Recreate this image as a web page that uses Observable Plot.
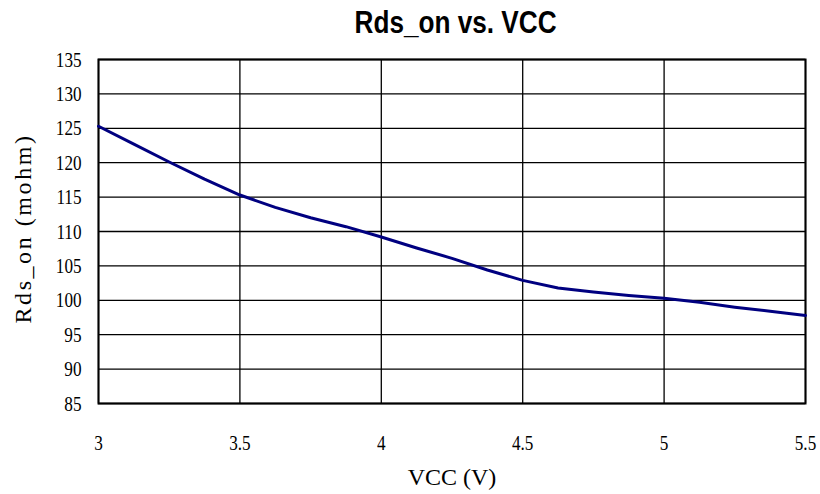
<!DOCTYPE html>
<html><head><meta charset="utf-8">
<script src="https://cdn.jsdelivr.net/npm/d3@7"></script>
<script src="https://cdn.jsdelivr.net/npm/@observablehq/plot@0.6"></script>
<style>
html,body{margin:0;padding:0;background:#fff;}
#wrap{position:relative;width:820px;height:494px;}
#title{position:absolute;left:0;top:6px;width:912px;text-align:center;font-family:"Liberation Sans",Arial,sans-serif;font-weight:bold;font-size:32px;line-height:32px;color:#000;}
#title span{display:inline-block;transform-origin:center;}
</style>
</head><body>
<div id="wrap"><div id="title"><span id="tt">Rds_on vs. VCC</span></div></div>
<script>
const vcc = [3.0,3.125,3.25,3.375,3.5,3.625,3.75,3.875,4.0,4.125,4.25,4.375,4.5,4.625,4.75,4.875,5.0,5.125,5.25,5.375,5.5];
const rdsOn = [125.3,122.7,120.1,117.6,115.3,113.5,112.0,110.7,109.2,107.6,106.1,104.4,102.9,101.8,101.2,100.7,100.3,99.7,99.0,98.4,97.8];
const xTicks = [3,3.5,4,4.5,5,5.5];
const yTicks = [85,90,95,100,105,110,115,120,125,130,135];
const xLabel = "VCC (V)";
const yLabel = "Rds_on (mohm)";

const data = vcc.map((v,i)=>({v, r: rdsOn[i]}));
const chart = Plot.plot({
  width: 820, height: 494,
  marginTop: 59, marginBottom: 91, marginLeft: 98, marginRight: 15,
  style: {fontFamily: "'Liberation Serif', 'Times New Roman', serif", fontSize: "22px", color: "#000", background: "#fff"},
  x: {domain: [3, 5.5], ticks: xTicks, tickFormat: d => String(d), tickSize: 0, tickPadding: 31, label: null},
  y: {domain: [85, 135], ticks: yTicks, tickFormat: d => String(d), tickSize: 0, tickPadding: 17, label: null},
  marks: [
    Plot.ruleX(xTicks, {stroke: "#000", strokeWidth: 1.3}),
    Plot.ruleY(yTicks, {stroke: "#000", strokeWidth: 1.3}),
    Plot.frame({stroke: "#000", strokeWidth: 2}),
    Plot.line(data, {x: "v", y: "r", stroke: "#000080", strokeWidth: 3}),
    Plot.text([xLabel], {frameAnchor: "bottom", dy: 74, lineAnchor: "middle", textAnchor: "middle", fontSize: 24}),
    Plot.text([yLabel], {frameAnchor: "left", dx: -75, dy: -3, rotate: -90, lineAnchor: "middle", textAnchor: "middle", fontSize: 24})
  ]
});
document.getElementById("wrap").appendChild(chart);
chart.querySelectorAll("text").forEach(t => {
  const s = t.textContent.trim();
  const w = t.getComputedTextLength();
  if (/^\d+(\.\d+)?$/.test(s) && w > 0) {
    // condense numeric tick text to mimic the narrow serif font
    t.setAttribute("textLength", (w*0.78).toFixed(1));
    t.setAttribute("lengthAdjust", "spacingAndGlyphs");
  } else if (s === yLabel && w > 0) {
    const ls = (190 - w) / s.length;
    t.style.letterSpacing = ls.toFixed(2) + "px";
  }
});
const tt = document.getElementById("tt");
const tw = tt.getBoundingClientRect().width;
tt.style.transform = `scaleX(${(202/tw).toFixed(3)})`;
</script>
</body></html>
